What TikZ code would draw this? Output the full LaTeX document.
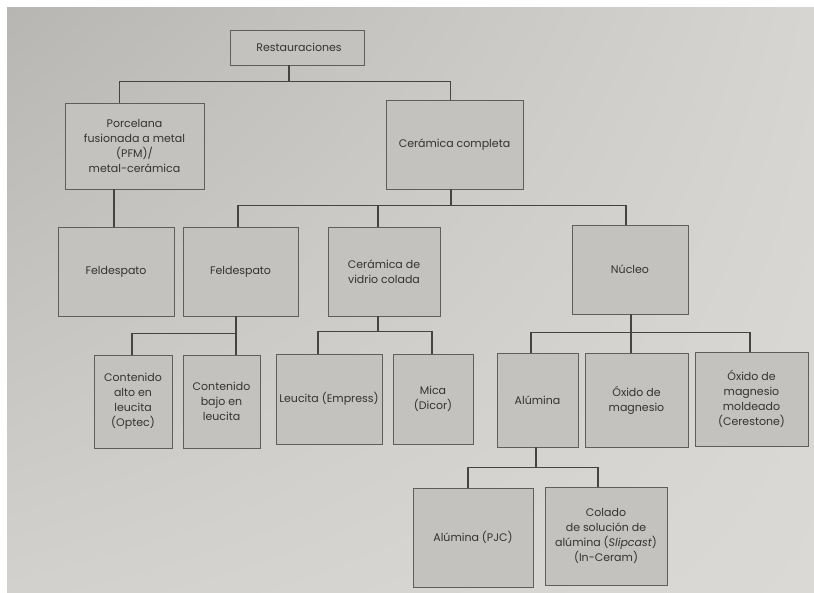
\documentclass[tikz,border=0pt]{standalone}
\usepackage{fontspec}
\setmainfont{Poppins}
\usetikzlibrary{calc,shadings}
\definecolor{pUL}{HTML}{B8B6B2}
\definecolor{pUR}{HTML}{D6D5D1}
\definecolor{pLL}{HTML}{D2D1CD}
\definecolor{pLR}{HTML}{DAD9D6}
\definecolor{boxfill}{HTML}{C3C2BF}
\definecolor{boxline}{HTML}{5E5E5C}
\definecolor{connline}{HTML}{444442}
\definecolor{txt}{HTML}{333331}
\tikzset{
  x=1pt, y=-1pt,
  box/.style={draw=boxline, fill=boxfill, line width=0.9pt, inner sep=2pt,
    align=center, text=txt, font=\fontsize{11}{15}\selectfont},
  conn/.style={draw=connline, line width=1.1pt},
}
\begin{document}
\begin{tikzpicture}
\useasboundingbox (0,0) rectangle (814,592);
\fill[white] (0,0) rectangle (814,592);
\shade[upper left=pUL, upper right=pUR, lower left=pLL, lower right=pLR] (7,7) rectangle (814,592);

\node[box, minimum width=134, minimum height=35] (r) at (297,47.5) {\hspace*{4pt}Restauraciones};
\node[box, minimum width=139, minimum height=86] (pfm) at (134.5,146) {Porcelana\\fusionada a metal\\(PFM)/\\metal-cerámica};
\node[box, minimum width=137, minimum height=89] (cc) at (454.5,144.5) {Cerámica completa};

\node[box, minimum width=116, minimum height=89] (f1) at (116,271.5) {Feldespato};
\node[box, minimum width=115, minimum height=89] (f2) at (240.5,271.5) {Feldespato};
\node[box, minimum width=112, minimum height=89] (vc) at (384,271.5) {Cerámica de\\vidrio colada};
\node[box, minimum width=116, minimum height=89] (nu) at (630,269.5) {Núcleo};

\node[box, minimum width=78, minimum height=93] (ca) at (133,401.5) {Contenido\\alto en\\leucita\\(Optec)};
\node[box, minimum width=77, minimum height=93] (cb) at (221.5,401.5) {Contenido\\bajo en\\leucita};
\node[box, minimum width=106, minimum height=90] (le) at (329,399) {Leucita (Empress)};
\node[box, minimum width=80, minimum height=90] (mi) at (433,399) {Mica\\(Dicor)};
\node[box, minimum width=81, minimum height=94] (al) at (537.5,400) {Alúmina};
\node[box, minimum width=103, minimum height=94] (ox) at (636.5,400) {Óxido de\\magnesio};
\node[box, minimum width=113, minimum height=94] (om) at (751.5,399) {Óxido de\\magnesio\\moldeado\\(Cerestone)};

\node[box, minimum width=120, minimum height=99] (pjc) at (473,537.5) {Alúmina (PJC)};
\node[box, minimum width=122, minimum height=98] (co) at (606,536) {Colado\\de solución de\\alúmina (\textit{Slipcast})\\(In-Ceram)};

% connectors
\draw[conn] ([xshift=-8]r.south) -- ++(0,16) coordinate (j1);
\draw[conn] ([xshift=-15]pfm.north) |- (j1) -| ([xshift=-4]cc.north);
\draw[conn] ([xshift=-2]f1.north) -- ([xshift=-2]f1.north |- pfm.south);

\draw[conn] ([xshift=-3.5]cc.south) -- ++(0,16) coordinate (j2);
\draw[conn] ([xshift=-2.5]f2.north) |- (j2) -| ([xshift=-4]nu.north);
\draw[conn] ([xshift=-6]vc.north) -- ([xshift=-6]vc.north |- j2);

\draw[conn] ([xshift=-4.5]f2.south) -- ++(0,17) coordinate (j3);
\draw[conn] ([xshift=-1]ca.north) |- (j3) -- ([xshift=14.5]cb.north);

\draw[conn] ([xshift=-6]vc.south) -- ++(0,15) coordinate (j4);
\draw[conn] ([xshift=-11]le.north) |- (j4) -| ([xshift=-1]mi.north);

\draw[conn] ([xshift=1]nu.south) -- ++(0,18) coordinate (j5);
\draw[conn] ([xshift=-6.5]al.north) |- (j5) -| ([xshift=-1.5]om.north);
\draw[conn] (j5) -- ([xshift=-5.5]ox.north);

\draw[conn] ([xshift=-1.5]al.south) -- ++(0,20) coordinate (j6);
\draw[conn] ([xshift=-5]pjc.north) |- (j6) -| ([xshift=-8]co.north);
\end{tikzpicture}
\end{document}
